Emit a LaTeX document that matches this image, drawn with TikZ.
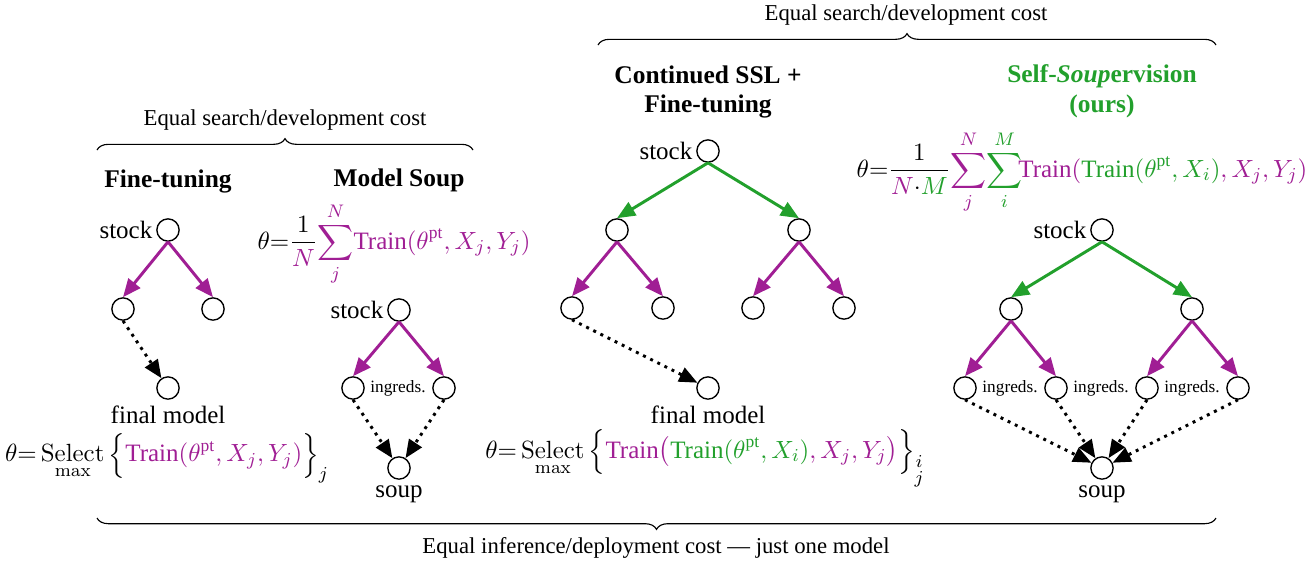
\documentclass[tikz,border=0pt]{standalone}
\usepackage{amsmath,amssymb}
\usepackage[no-math]{fontspec}
\setmainfont{Liberation Serif}
\usetikzlibrary{arrows.meta}
\usetikzlibrary{positioning}
\usetikzlibrary{decorations.pathreplacing}

\definecolor{purp}{RGB}{160,30,148}
\definecolor{grn}{RGB}{34,160,44}
\newcommand{\mkpurp}[1]{\textcolor{purp}{#1}}
\newcommand{\mkgrn}[1]{\textcolor{grn}{#1}}

\begin{document}
\begin{tikzpicture}[x=0.44pt,y=-0.44pt,
        >={Triangle[length=8pt,width=6.6pt]},
        ball/.style={shape=circle,draw=black,line width=0.6pt,minimum size=9.8pt,inner sep=0pt},
        lbl/.style={inner sep=1.5pt,font=\fontsize{11}{13}\selectfont},
        ingr/.style={inner sep=1pt,font=\fontsize{7.6}{9}\selectfont},
        ttl/.style={align=center,inner sep=0.5pt,font=\fontsize{11.2}{13}\selectfont\bfseries},
        frm/.style={inner sep=0pt,font=\fontsize{11}{13}\selectfont},
        brlbl/.style={inner sep=0pt,font=\fontsize{10}{12}\selectfont},
        pedge/.style={->,color=purp,line width=1.3pt},
        gedge/.style={->,color=grn,line width=1.3pt},
        dedge/.style={->,color=black,line width=1.3pt,dash pattern=on 1.3pt off 2.2pt},
        cbrace/.style={decorate,decoration={brace,amplitude=5pt},line width=0.5pt}]

        \useasboundingbox (0,0) rectangle (1316,563);

        % Fine-tuning
        \node[ttl] (T1) at (168,181) {Fine-tuning};
        \node[ball] (FS) at (168,230) {};
        \node[lbl,left=0pt of FS] (FSl) {stock};
        \node[ball] (FL) at (123,309) {};
        \node[ball] (FR) at (213,309) {};
        \node[ball] (FF) at (168,388) {};
        \node[lbl,below=1pt of FF] (FFl) {final model};
        \node[frm] (FEq) at (167,458) {$\displaystyle \theta{=}\mathop{\mathrm{Select}}\limits_{\max}\Big\{\mkpurp{\text{Train}(\theta^{\text{pt}},X_j,Y_j)}\Big\}_j$};

        \path[pedge] (FS.south) edge (FL.north) edge (FR.north);
        \path[dedge] (FL.south) edge (FF);

        % Model Soup
        \node[ttl] (T2) at (399,180) {Model Soup};
        \node[frm] (MEq) at (394,244) {$\displaystyle \theta{=}\frac{1}{\mkpurp{N}}\mkpurp{\sum_j^N\!\text{Train}(\theta^{\text{pt}},X_j,Y_j)}$};
        \node[ball] (MS) at (399,310) {};
        \node[lbl,left=0pt of MS] (MSl) {stock};
        \node[ball] (MI1) at (353,388) {};
        \node[ball] (MI2) at (444,388) {};
        \node[ingr] (MIl) at (398,388) {ingreds.};
        \node[ball] (MP) at (399,468) {};
        \node[lbl,below=1pt of MP] (MPl) {soup};

        \path[pedge] (MS.south) edge (MI1.north) edge (MI2.north);
        \path[dedge] (MI1.south) edge (MP);
        \path[dedge] (MI2.south) edge (MP);

        % Continued SSL + Fine-tuning
        \node[ttl] (T3) at (708,92) {Continued SSL +\\Fine-tuning};
        \node[ball] (CS) at (708,151) {};
        \node[lbl,left=0pt of CS] (CSl) {stock};
        \node[ball] (C1) at (617,230) {};
        \node[ball] (C2) at (799,230) {};
        \node[ball] (C11) at (572,308) {};
        \node[ball] (C12) at (663,308) {};
        \node[ball] (C21) at (753,308) {};
        \node[ball] (C22) at (844,308) {};
        \node[ball] (CF) at (708,388) {};
        \node[lbl,below=1pt of CF] (CFl) {final model};
        \node[frm] (CEq) at (705,458) {$\displaystyle \theta{=}\mathop{\mathrm{Select}}\limits_{\max}\Big\{\mkpurp{\text{Train}\big(}\mkgrn{\text{Train}(\theta^{\text{pt}},X_i)}\mkpurp{,X_j,Y_j\big)}\Big\}_{\substack{i\\j}}$};

        \path[gedge] (CS.south) edge (C1.north) edge (C2.north);
        \path[pedge] (C1.south) edge (C11.north) edge (C12.north);
        \path[pedge] (C2.south) edge (C21.north) edge (C22.north);
        \path[dedge] (C11.south) edge (CF);

        % Self-Soupervision
        \node[ttl,text=grn] (T4) at (1102,91) {Self-\textit{Soup}ervision\\(ours)};
        \node[frm] (SEq) at (1082,172) {$\displaystyle \theta{=}\frac{1}{\mkpurp{N}{\cdot}\mkgrn{M}}\mkpurp{\sum_j^N}\mkgrn{\sum_i^M}\!\mkpurp{\text{Train}(}\mkgrn{\text{Train}(\theta^{\text{pt}},X_i)}\mkpurp{,X_j,Y_j)}$};
        \node[ball] (SS) at (1102,230) {};
        \node[lbl,left=0pt of SS] (SSl) {stock};
        \node[ball] (S1) at (1011,309) {};
        \node[ball] (S2) at (1192,309) {};
        \node[ball] (S11) at (965,388) {};
        \node[ball] (S12) at (1056,388) {};
        \node[ball] (S21) at (1147,388) {};
        \node[ball] (S22) at (1238,388) {};
        \node[ingr] (SIl1) at (1010,388) {ingreds.};
        \node[ingr] (SIl2) at (1101,388) {ingreds.};
        \node[ingr] (SIl3) at (1192,388) {ingreds.};
        \node[ball] (SP) at (1102,468) {};
        \node[lbl,below=1pt of SP] (SPl) {soup};

        \path[gedge] (SS.south) edge (S1.north) edge (S2.north);
        \path[pedge] (S1.south) edge (S11.north) edge (S12.north);
        \path[pedge] (S2.south) edge (S21.north) edge (S22.north);
        \path[dedge] (S11.south) edge (SP);
        \path[dedge] (S12.south) edge (SP);
        \path[dedge] (S21.south) edge (SP);
        \path[dedge] (S22.south) edge (SP);

        % Braces
        \coordinate (B1a) at (97,150);
        \coordinate (B1b) at (473,150);
        \draw[cbrace] (B1a) -- (B1b);
        \node[brlbl] (B1l) at (285,120) {Equal search/development cost};

        \coordinate (B2a) at (598,45);
        \coordinate (B2b) at (1216,45);
        \draw[cbrace] (B2a) -- (B2b);
        \node[brlbl] (B2l) at (906,15) {Equal search/development cost};

        \coordinate (B3a) at (1216,518);
        \coordinate (B3b) at (97,518);
        \draw[cbrace] (B3a) -- (B3b);
        \node[brlbl] (B3l) at (656,548) {Equal inference/deployment cost --- just one model};

\end{tikzpicture}
\end{document}
